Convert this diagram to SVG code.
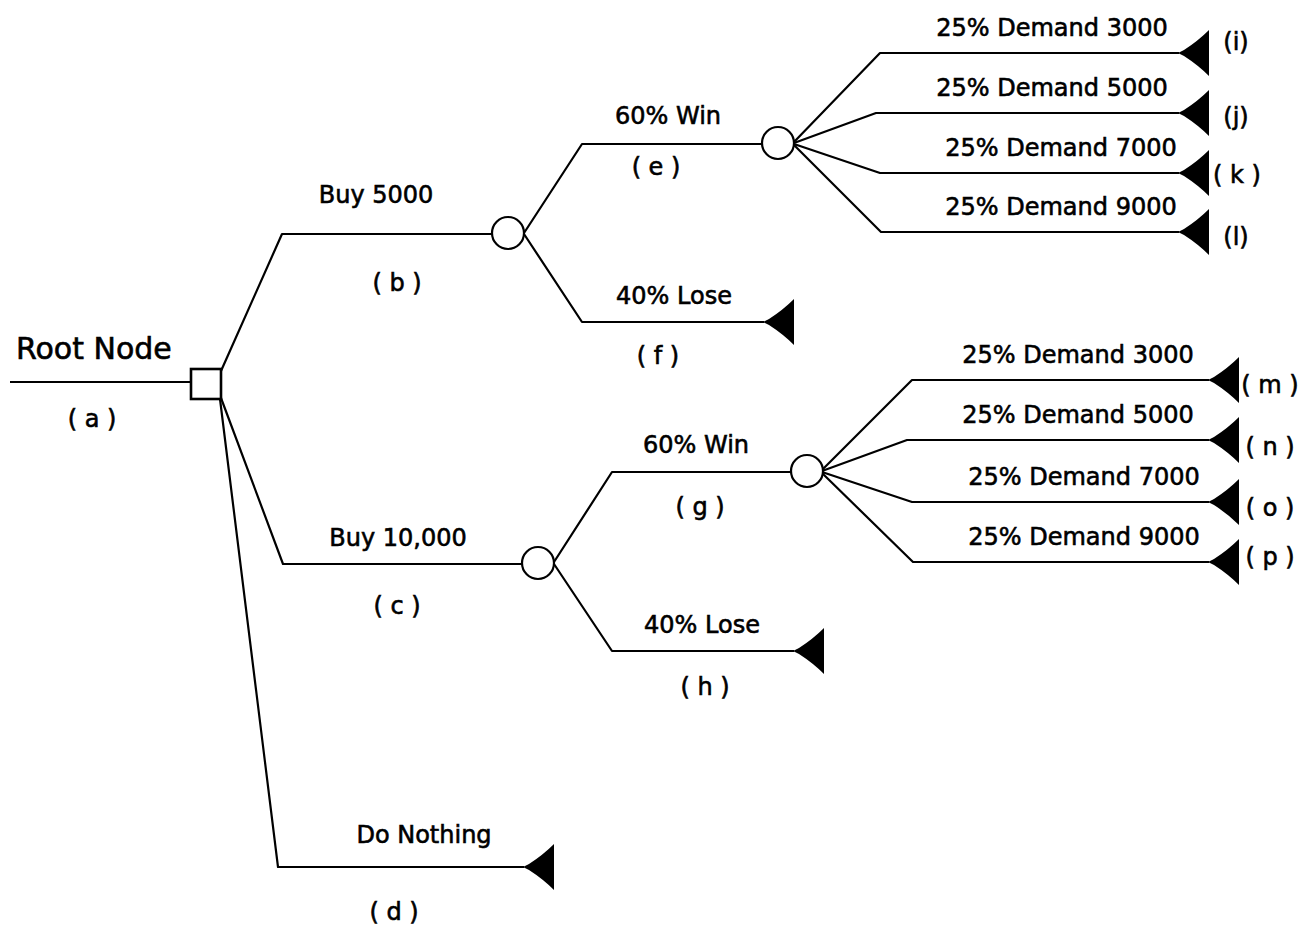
<svg xmlns="http://www.w3.org/2000/svg" width="1303" height="928" viewBox="0 0 1303 928">
  <style>
    .edge { fill: none; stroke: #000; stroke-width: 2.2; stroke-linejoin: round; }
    .chance { fill: #fff; stroke: #000; stroke-width: 2.2; }
    .decision { fill: #fff; stroke: #000; stroke-width: 2.6; }
    .term { fill: #000; stroke: none; }
    text { font-family: "DejaVu Sans", "Liberation Sans", sans-serif; fill: #000; stroke: #000; stroke-width: 0.6; }
    .lbl { font-size: 24px; text-anchor: middle; }
    .tag { font-size: 24px; text-anchor: middle; }
    .title { font-size: 30px; }
  </style>
  <defs>
    <!-- terminal wedge: tip at (0,0), flat back edge at x=31 -->
    <path id="wedge" d="M0,0 L6,-3 Q20,-12 31,-23 L31,23 Q20,12 6,3 Z"/>
  </defs>

  <rect width="1303" height="928" fill="#fff"/>

  <!-- branches of the tree -->
  <g id="connectors">
    <path class="edge" d="M10,382 H190"/>
    <!-- decision branches -->
    <path class="edge" d="M221,371 L282,234 H492"/>
    <path class="edge" d="M221,398 L283,564 H522"/>
    <path class="edge" d="M220,399 L278,867 H524"/>
    <!-- Buy 5000 outcomes -->
    <path class="edge" d="M524,233 L582,144 H762"/>
    <path class="edge" d="M524,234 L582,322 H764"/>
    <!-- demand after win (Buy 5000) -->
    <path class="edge" d="M794,142 L880,53 H1179"/>
    <path class="edge" d="M794,143 L876,113 H1179"/>
    <path class="edge" d="M794,144 L880,173 H1179"/>
    <path class="edge" d="M794,145 L881,232 H1179"/>
    <!-- Buy 10,000 outcomes -->
    <path class="edge" d="M554,562 L612,472 H792"/>
    <path class="edge" d="M554,564 L612,651 H794"/>
    <!-- demand after win (Buy 10,000) -->
    <path class="edge" d="M822,470 L912,380 H1209"/>
    <path class="edge" d="M822,471 L907,440 H1209"/>
    <path class="edge" d="M822,472 L912,502 H1209"/>
    <path class="edge" d="M822,473 L913,562 H1209"/>
  </g>

  <g id="node-a">
    <rect class="decision" x="191" y="369" width="30" height="30"/>
    <text class="title" x="16" y="359">Root Node</text>
    <text class="tag" x="92" y="427">( a )</text>
  </g>

  <g id="node-b">
    <circle class="chance" cx="508" cy="233" r="16"/>
    <text class="lbl" x="376" y="203">Buy 5000</text>
    <text class="tag" x="397" y="291">( b )</text>
  </g>

  <g id="node-c">
    <circle class="chance" cx="538" cy="563" r="16"/>
    <text class="lbl" x="398" y="546">Buy 10,000</text>
    <text class="tag" x="397" y="614">( c )</text>
  </g>

  <g id="node-d">
    <use href="#wedge" class="term" x="523" y="867"/>
    <text class="lbl" x="424" y="843">Do Nothing</text>
    <text class="tag" x="394" y="920">( d )</text>
  </g>

  <g id="node-e">
    <circle class="chance" cx="778" cy="143" r="16"/>
    <text class="lbl" x="668" y="124">60% Win</text>
    <text class="tag" x="656" y="175">( e )</text>
  </g>

  <g id="node-f">
    <use href="#wedge" class="term" x="763" y="322"/>
    <text class="lbl" x="674" y="304">40% Lose</text>
    <text class="tag" x="658" y="364">( f )</text>
  </g>

  <g id="node-g">
    <circle class="chance" cx="807" cy="471" r="16"/>
    <text class="lbl" x="696" y="453">60% Win</text>
    <text class="tag" x="700" y="515">( g )</text>
  </g>

  <g id="node-h">
    <use href="#wedge" class="term" x="793" y="651"/>
    <text class="lbl" x="702" y="633">40% Lose</text>
    <text class="tag" x="705" y="695">( h )</text>
  </g>

  <g id="node-i">
    <use href="#wedge" class="term" x="1178" y="53"/>
    <text class="lbl" x="1052" y="36">25% Demand 3000</text>
    <text class="tag" x="1236" y="50">(i)</text>
  </g>
  <g id="node-j">
    <use href="#wedge" class="term" x="1178" y="113"/>
    <text class="lbl" x="1052" y="96">25% Demand 5000</text>
    <text class="tag" x="1236" y="125">(j)</text>
  </g>
  <g id="node-k">
    <use href="#wedge" class="term" x="1178" y="173"/>
    <text class="lbl" x="1061" y="156">25% Demand 7000</text>
    <text class="tag" x="1237" y="183">( k )</text>
  </g>
  <g id="node-l">
    <use href="#wedge" class="term" x="1178" y="232"/>
    <text class="lbl" x="1061" y="215">25% Demand 9000</text>
    <text class="tag" x="1236" y="245">(l)</text>
  </g>

  <g id="node-m">
    <use href="#wedge" class="term" x="1208" y="380"/>
    <text class="lbl" x="1078" y="363">25% Demand 3000</text>
    <text class="tag" x="1270" y="393">( m )</text>
  </g>
  <g id="node-n">
    <use href="#wedge" class="term" x="1208" y="440"/>
    <text class="lbl" x="1078" y="423">25% Demand 5000</text>
    <text class="tag" x="1270" y="455">( n )</text>
  </g>
  <g id="node-o">
    <use href="#wedge" class="term" x="1208" y="502"/>
    <text class="lbl" x="1084" y="485">25% Demand 7000</text>
    <text class="tag" x="1270" y="516">( o )</text>
  </g>
  <g id="node-p">
    <use href="#wedge" class="term" x="1208" y="562"/>
    <text class="lbl" x="1084" y="545">25% Demand 9000</text>
    <text class="tag" x="1270" y="565">( p )</text>
  </g>
</svg>
